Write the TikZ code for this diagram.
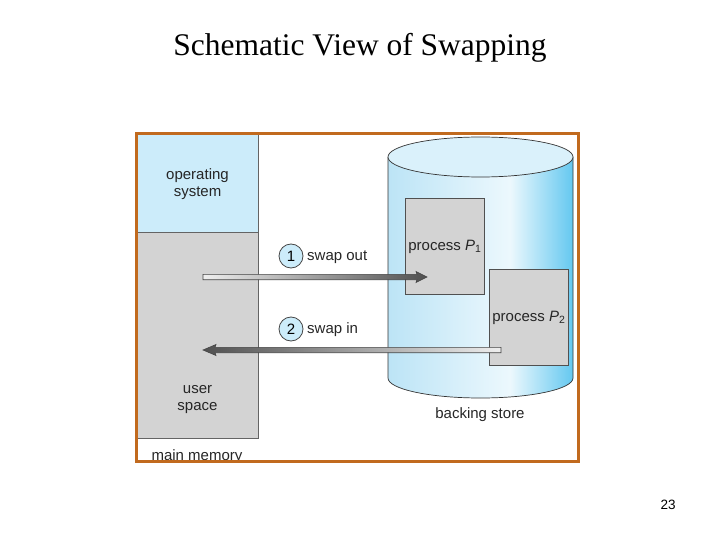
\documentclass[tikz,border=0pt]{standalone}
\usepackage{fontspec}
\setmainfont{Liberation Serif}
\newfontfamily\arialf{Liberation Sans}
\usetikzlibrary{calc}
\definecolor{frameC}{RGB}{193,106,30}
\definecolor{osC}{RGB}{204,236,250}
\definecolor{grayC}{RGB}{211,211,211}
\definecolor{edgeC}{RGB}{100,100,100}
\definecolor{cylL}{RGB}{188,228,246}
\definecolor{cylM}{RGB}{236,248,253}
\definecolor{cylR}{RGB}{100,200,240}
\definecolor{cylTop}{RGB}{218,241,251}
\definecolor{arLight}{RGB}{238,238,238}
\definecolor{arDark}{RGB}{80,80,80}
\pgfdeclarehorizontalshading{cylshade}{100bp}{color(0bp)=(cylL); color(25bp)=(cylL); color(58bp)=(cylM); color(75bp)=(cylR); color(100bp)=(cylR)}
\tikzset{
  dtext/.style={font=\arialf\fontsize{15}{17}\selectfont, text=black!85, align=center, inner sep=0pt},
  membox/.style={draw=edgeC, line width=0.8pt, inner sep=0pt, anchor=north west},
  procbox/.style={draw=edgeC!80!black, line width=0.8pt, fill=grayC, inner sep=0pt, anchor=north west, minimum width=79, minimum height=96},
  stepnum/.style={circle, draw=edgeC!70!black, line width=0.8pt, fill=osC, minimum size=24, inner sep=0pt, font=\arialf\fontsize{15}{17}\selectfont},
  cylline/.style={draw=black!80, line width=0.7pt},
  arrowout/.style={draw=arDark!85!black, line width=0.6pt}
}
\begin{document}
\begin{tikzpicture}[x=1pt,y=-1pt]
\useasboundingbox (0,0) rectangle (720,540);
% title
\node[font=\fontsize{31.5}{34}\selectfont] (title) at (360,48) {Schematic View of Swapping};
\node[font=\arialf\fontsize{13.5}{15}\selectfont] (pnum) at (668,505) {23};
\begin{scope}
\clip (135,132) rectangle (577,460);
% main memory
\node[membox, fill=osC, minimum width=121, minimum height=99] (os) at (137,133) {};
\node[membox, fill=grayC, minimum width=121, minimum height=206] (user) at (137,232) {};
\node[dtext] (ostext) at (197.5,184.5) {operating\\system};
\node[dtext] (ustext) at (197.5,399.5) {user\\space};
\node[dtext, anchor=base] (mm) at (197,460.5) {main memory};
% backing store cylinder
\shade[shading=cylshade] (388,157) -- (388,378) arc[start angle=180,end angle=0,x radius=92.5,y radius=20] -- (573,157) -- cycle;
\draw[cylline] (388,157) -- (388,378) arc[start angle=180,end angle=0,x radius=92.5,y radius=20] -- (573,157);
\draw[cylline, fill=cylTop] (480.5,157) ellipse[x radius=92.5, y radius=20];
\node[dtext] (bs) at (480,414.5) {backing store};
% processes
\node[procbox] (p1) at (405,198) {};
\node[dtext] (p1t) at ($(p1.center)+(0,0)$) {process {\itshape P}\textsubscript{1}};
\node[procbox] (p2) at (489,269) {};
\node[dtext] (p2t) at ($(p2.center)+(0,0)$) {process {\itshape P}\textsubscript{2}};
% arrows
\coordinate (a1s) at (203,277);
\coordinate (a1e) at (427,277);
\coordinate (a2s) at (501,350);
\coordinate (a2e) at (203,350);
\shade[left color=arLight, right color=arDark, arrowout]
  ($(a1s)+(0,-2.7)$) -- ($(a1e)+(-10,-2.7)$) -- ($(a1e)+(-11,-5.5)$) -- (a1e)
  -- ($(a1e)+(-11,5.5)$) -- ($(a1e)+(-10,2.7)$) -- ($(a1s)+(0,2.7)$) -- cycle;
\shade[left color=arDark, right color=arLight, arrowout]
  ($(a2s)+(0,-2.7)$) -- ($(a2e)+(12,-2.7)$) -- ($(a2e)+(13,-5.5)$) -- (a2e)
  -- ($(a2e)+(13,5.5)$) -- ($(a2e)+(12,2.7)$) -- ($(a2s)+(0,2.7)$) -- cycle;
% step labels
\node[stepnum] (n1) at (291,256) {1};
\node[dtext, anchor=west] (so) at (307,257) {swap out};
\node[stepnum] (n2) at (291,329) {2};
\node[dtext, anchor=west] (si) at (307,330) {swap in};
\end{scope}
% frame
\node[draw=frameC, line width=3pt, anchor=north west, minimum width=442, minimum height=328, inner sep=0pt] (frame) at (135,132) {};
\end{tikzpicture}
\end{document}
